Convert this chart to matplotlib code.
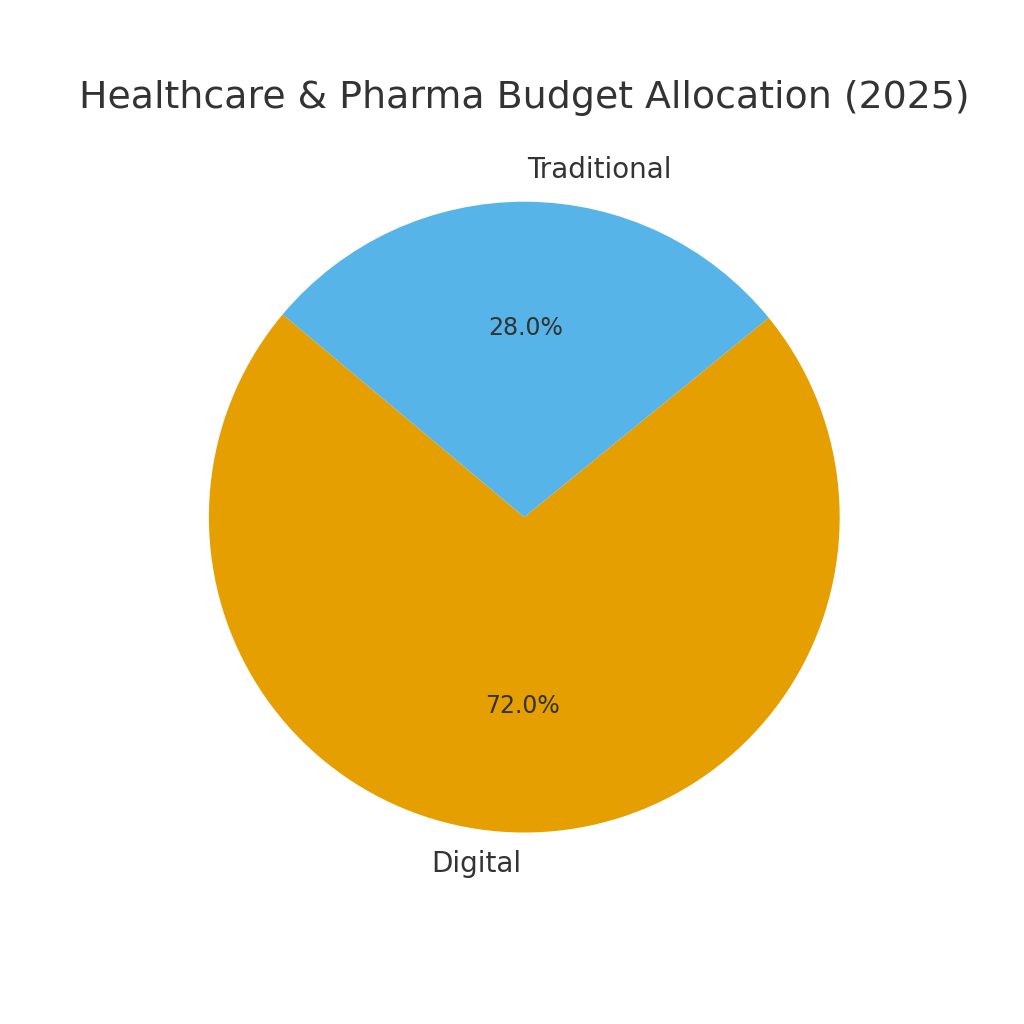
import matplotlib.pyplot as plt

labels = ["Digital", "Traditional"]
shares = [72, 28]
colors = ["#E69F00", "#56B4E9"]

text_color = "#333333"

fig, ax = plt.subplots(figsize=(10.24, 10.24), dpi=100)
wedges, texts, autotexts = ax.pie(
    shares,
    labels=labels,
    colors=colors,
    autopct="%1.1f%%",
    startangle=140,
    textprops={"fontsize": 20, "color": text_color},
)
for t in autotexts:
    t.set_fontsize(17)
    t.set_color(text_color)

ax.set_title("Healthcare & Pharma Budget Allocation (2025)", fontsize=27.3,
             color=text_color, pad=11)
ax.set_aspect("equal")

fig.subplots_adjust(left=0.127, right=0.897, top=0.88, bottom=0.11)
fig.savefig("out.png", dpi=100)
plt.close(fig)
